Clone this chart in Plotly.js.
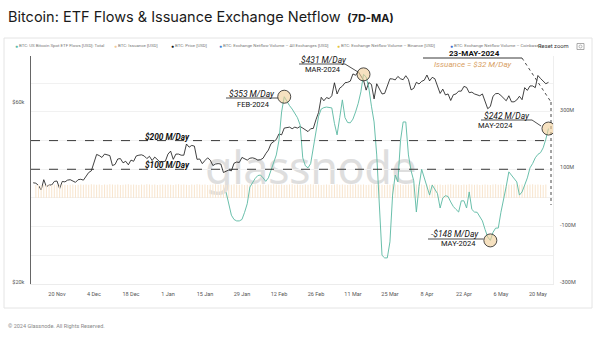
<!DOCTYPE html>
<html><head><meta charset="utf-8">
<script src="https://cdn.plot.ly/plotly-3.0.1.min.js"></script>
<style>
html,body{margin:0;padding:0;background:#fff;width:600px;height:344px;overflow:hidden;}
#wm{position:absolute;left:0;top:0;width:600px;height:344px;pointer-events:none;}
#wm span{position:absolute;left:205px;top:144px;font-family:'Noto Sans',sans-serif;font-size:45px;color:#dedede;letter-spacing:-0.5px;line-height:1}
#chart{position:absolute;left:0;top:0;width:600px;height:344px;}
</style></head>
<body><div id="wm"><span>glassnode</span></div><div id="chart"></div>
<script>
// ---------- DATA ----------
const priceStart = '2023-11-11';
const priceK = [
 37.1,37.0,36.5,35.5,37.8,36.2,36.6,36.6,37.4,37.5,35.8,37.4,37.3,37.7,37.8,37.5,37.2,37.8,37.9,37.7,
 38.7,39.5,39.9,42.0,44.1,43.8,43.3,44.2,44.0,43.8,41.2,41.5,42.9,43.0,41.9,42.3,41.4,42.6,42.3,43.7,43.9,44.0,43.7,43.0,43.6,42.5,43.4,42.6,42.1,42.2,42.3,
 44.2,45.0,42.8,44.2,44.2,43.9,43.9,47.0,46.1,46.6,46.4,42.8,42.9,41.7,42.5,43.2,42.6,41.2,41.6,41.7,41.6,39.5,39.8,40.1,39.9,41.8,42.1,42.0,43.3,42.9,42.6,
 43.1,43.2,43.0,42.6,42.7,43.1,44.3,45.3,47.1,47.8,48.3,50.0,49.7,51.8,51.9,52.1,51.6,52.1,51.8,52.3,51.8,51.3,50.7,51.6,51.7,54.5,57.0,62.5,61.2,
 62.4,62.0,63.1,68.3,63.8,66.1,66.9,68.3,68.5,69.0,72.1,71.5,73.1,71.4,69.4,65.3,68.4,67.6,61.9,67.9,65.5,63.8,64.0,67.2,70.0,69.9,69.5,71.0,70.0,69.6,71.3,
 69.7,65.4,66.0,68.5,67.8,68.9,69.4,71.6,69.1,70.6,70.0,67.1,64.0,65.7,63.4,63.8,61.3,63.5,63.8,64.9,64.9,66.8,66.4,64.3,64.5,63.8,63.4,63.1,63.8,60.6,
 58.3,59.1,62.9,63.9,64.0,63.2,62.3,61.2,63.1,60.8,60.8,61.5,62.9,61.6,66.3,65.2,67.0,67.0,66.3,71.4,70.1,69.1,67.9,68.5
];
const etfStart = '2024-01-23';
const etfFlowsM = [
 20,-20,-60,-75,-80,-80,-75,-50,-20,
 38,55,68,78,80,70,58,70,95,120,150,200,300,353,335,322,310,295,280,255,140,112,105,120,180,240,285,310,315,
 317,316,314,260,220,280,342,280,263,262,275,300,330,370,431,422,384,320,265,150,-50,-200,-209,-209,-153,10,80,56,200,265,265,
 150,95,60,-49,40,100,70,35,10,45,30,15,-35,0,8,5,-14,-30,-40,-49,-10,-10,-35,21,-40,-49,-50,-65,-80,-110,
 -136,-148,-120,-105,-105,-50,-10,40,91,80,70,56,10,21,45,70,105,120,140,152,158,175,205,242
];
const issStart = '2023-11-12';
const issuanceM = [
 45,46,44,47,45,46,45,47,46,45,47,46,45,46,47,45,46,47,46,
 47,46,48,47,46,47,45,47,46,48,47,46,47,45,46,47,48,46,47,46,45,47,46,48,47,46,47,45,46,47,46,
 47,46,45,47,48,46,47,46,45,47,46,48,47,46,47,45,46,47,48,46,47,46,45,47,46,48,47,46,47,45,46,
 47,46,48,47,46,47,45,47,46,48,47,46,47,45,46,47,48,46,47,46,45,47,46,48,47,46,47,45,46,
 47,46,45,47,48,46,47,46,45,47,46,48,47,46,47,45,46,47,48,46,47,46,45,47,46,48,47,46,47,45,46,
 47,46,48,47,46,47,45,47,46,48,47,46,47,45,46,47,48,46,47,46,45,47,46,48,47,46,47,45,46,47,
 46,45,47,48,46,47,46,45,47,46,48,47,46,47,45,46,47,48,46,47,46,45,47
];
const levelLines = [200, 100];
const levelLabels = ['$200 M/Day', '$100 M/Day'];
const rightTicks = [-300,-200,-100,0,100,200,300,400];
const rightTickText = ['-300M','','-100M','','100M','','300M',''];
const leftTicks = [20000, 60000];
const leftTickText = ['$20k','$60k'];

// ---------- helpers ----------
function days(start, n){
  const out=[]; const t0=Date.parse(start+'T00:00:00Z');
  for(let i=0;i<n;i++){ out.push(new Date(t0+i*86400000).toISOString().slice(0,10)); }
  return out;
}
const L=31,R=553,T=56,B=284;
const px=x=>(x-L)/(R-L), py=y=>(B-y)/(B-T);
const F='Roboto, "Open Sans", sans-serif';
function txt(x,y,text,size,color,anchor,family){
  return {xref:'paper',yref:'paper',x:px(x),y:py(y),text:text,showarrow:false,
    xanchor:anchor||'left',yanchor:'middle',font:{family:family||F,size:size,color:color||'#111'}};
}
function ln(x0,y0,x1,y1,dash,color,w){
  return {type:'line',xref:'paper',yref:'paper',x0:px(x0),y0:py(y0),x1:px(x1),y1:py(y1),
    line:{color:color||'#222',width:w||0.8,dash:dash||'solid'}};
}
function circ(d,v){
  return {type:'circle',xref:'x',yref:'y2',xsizemode:'pixel',ysizemode:'pixel',xanchor:d,yanchor:v,
    x0:-6.5,x1:6.5,y0:-6.5,y1:6.5,fillcolor:'rgba(240,205,150,0.6)',line:{color:'#222',width:0.8}};
}

const priceDates = days(priceStart, priceK.length);
const etfDates = days(etfStart, etfFlowsM.length);
const issDates = days(issStart, issuanceM.length);

const traces = [
  {type:'bar', x:issDates, y:issuanceM, yaxis:'y2', marker:{color:'#f8e6d0'}, width:0.4*86400000, hoverinfo:'skip'},
  {type:'scatter', mode:'lines', x:priceDates, y:priceK.map(v=>v*1000), yaxis:'y', line:{color:'#111',width:0.8}},
  {type:'scatter', mode:'lines', x:etfDates, y:etfFlowsM, yaxis:'y2', line:{color:'#62bca6',width:0.95}}
];

const ann = [];
const shapes = [];
// title + footer
ann.push(txt(6,17,'Bitcoin: ETF Flows &amp; Issuance Exchange Netflow <b><span style="font-size:11px">&nbsp;(7D-MA)</span></b>',14.5,'#1a1a1a','left','Inter, Roboto, sans-serif'));
ann.push(txt(6,326,'© 2024 Glassnode. All Rights Reserved.',5.5,'#888'));
// legend
const legItems = [
 [14,'#5db9a4','BTC: US Bitcoin Spot ETF Flows [USD]: Total'],
 [113,'#f2c995','BTC: Issuance [USD]'],
 [170,'#111','BTC: Price [USD]'],
 [218,'#3d7fd6','BTC: Exchange Netflow Volume – All Exchanges [USD]'],
 [336,'#e6c43c','BTC: Exchange Netflow Volume – Binance [USD]'],
 [449,'#3a6bd0','BTC: Exchange Netflow Volume – Coinbase [']
];
legItems.forEach(it=>{
  ann.push(txt(it[0]-1.5,45.5,'●',5,it[1]));
  ann.push(txt(it[0]+3,45.5,it[2],4.4,'#777'));
});
ann.push(txt(536,46,'Reset zoom',5.8,'#333'));
shapes.push({type:'rect',xref:'paper',yref:'paper',x0:px(577),x1:px(584),y0:py(49.5),y1:py(43.5),line:{color:'#888',width:0.7}});
shapes.push({type:'circle',xref:'paper',yref:'paper',x0:px(579),x1:px(582),y0:py(48),y1:py(45),line:{color:'#888',width:0.6}});
// panel border
shapes.push({type:'rect',xref:'paper',yref:'paper',x0:px(4),x1:px(592),y0:py(308),y1:py(38),line:{color:'#e4e4e4',width:1},layer:'below'});

// level lines
levelLines.forEach((v,i)=>{
  shapes.push({type:'line',xref:'paper',yref:'y2',x0:0,x1:1,y0:v,y1:v,line:{color:'#222',width:0.9,dash:'dash'}});
});
ann.push(txt(143,136.5,'<b><i>'+levelLabels[0]+'</i></b>',8.3,'#111'));
ann.push(txt(143,165,'<b><i>'+levelLabels[1]+'</i></b>',8.3,'#111'));

// FEB peak
ann.push(txt(227,93.5,'<i>$353 M/Day</i>',8.5,'#111'));
ann.push(txt(272,104,'FEB-2024',7.5,'#111','right'));
shapes.push(ln(226,98,278,98));
shapes.push(circ('2024-02-14',353));
// MAR peak
ann.push(txt(299,59.5,'<i>$431 M/Day</i>',8.5,'#111'));
ann.push(txt(343,69.5,'MAR-2024',7.5,'#111','right'));
shapes.push(ln(299,64,345,64));
shapes.push(ln(345,64,358,72));
shapes.push(circ('2024-03-15',431));
// 23 May
ann.push(txt(474.5,53.2,'<b>23-MAY-2024</b>',8,'#111','center'));
ann.push(txt(472.5,64,'<i>Issuance = $32 M/Day</i>',8,'#d8a064','center'));
shapes.push(ln(423,58,522,58,'solid','#222',0.9));
shapes.push(ln(522,58,551,102,'dot','#333',0.9));
shapes.push(ln(551,102,551,205,'dot','#333',0.9));
// 242
ann.push(txt(482,115.5,'<i>$242 M/Day</i>',8.5,'#111'));
ann.push(txt(515,125,'MAY-2024',7.5,'#111','right'));
shapes.push(ln(481,120,532,120));
shapes.push(ln(532,120,541,126));
shapes.push(circ('2024-05-24',242));
// -148
ann.push(txt(429,233.5,'<i>-$148 M/Day</i>',8.5,'#111'));
ann.push(txt(478,243.5,'MAY-2024',7.5,'#111','right'));
shapes.push(ln(428,239,483.5,239));
shapes.push(circ('2024-05-02',-148));

const layout = {
  width:600, height:344,
  margin:{l:L, r:600-R, t:T, b:344-B, pad:0},
  paper_bgcolor:'rgba(0,0,0,0)', plot_bgcolor:'rgba(0,0,0,0)',
  showlegend:false,
  font:{family:F, size:5.5, color:'#555'},
  xaxis:{type:'date', range:['2023-11-10 04:00','2024-05-25 17:00'], tick0:'2023-11-20', dtick:14*86400000,
    tickformat:'%-d %b', showgrid:false, showline:true, linecolor:'#ececec', linewidth:1, zeroline:false,
    ticks:'', ticklabelstandoff:4, tickfont:{size:5.5,color:'#555'}},
  yaxis:{type:'log', range:[Math.log10(20000), 4.9054], tickvals:leftTicks, ticktext:leftTickText,
    showgrid:false, showline:true, linecolor:'#666', linewidth:1.5, zeroline:false, ticks:'',
    ticklabelstandoff:4, ticklabelshift:-2, tickfont:{size:5.5,color:'#555'}},
  yaxis2:{overlaying:'y', side:'right', range:[-300,495], tickvals:rightTicks, ticktext:rightTickText,
    showgrid:true, gridcolor:'#f1f1f1', gridwidth:1, zeroline:false, showline:true, linecolor:'#eeeeee',
    ticks:'', ticklabelstandoff:5, ticklabelshift:-2, tickfont:{size:5.5,color:'#555'}},
  bargap:0.4,
  annotations:ann, shapes:shapes
};
Plotly.newPlot('chart', traces, layout, {displayModeBar:false, staticPlot:true});
</script></body></html>
